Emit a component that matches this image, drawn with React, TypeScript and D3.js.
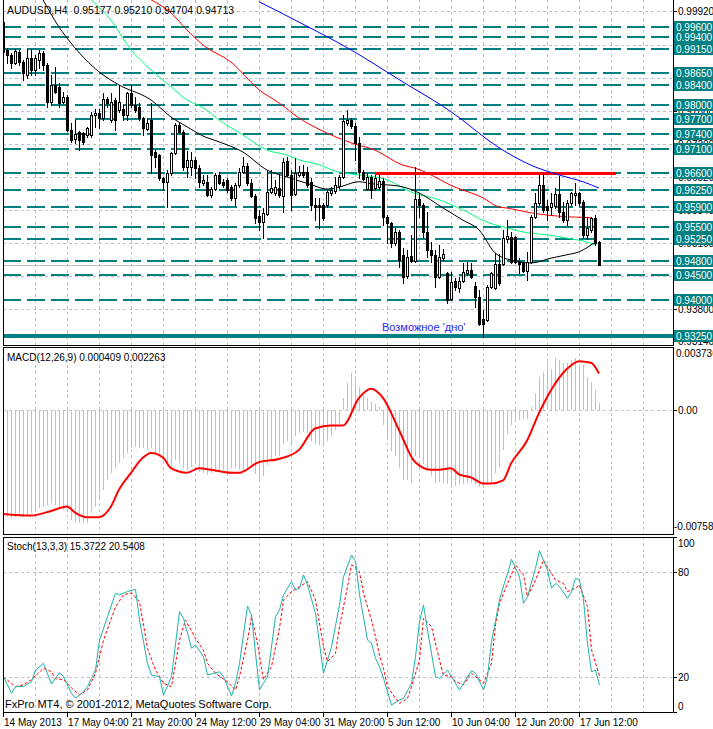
import React from 'react';
import * as d3 from 'd3';

const OPEN = [0.9970,0.9913,0.9903,0.9886,0.9909,0.9888,0.9861,0.9896,0.9872,0.9892,0.9907,0.9882,0.9805,0.9841,0.9837,0.9805,0.9816,0.9748,0.9730,0.9744,0.9742,0.9738,0.9738,0.9779,0.9783,0.9773,0.9812,0.9769,0.9810,0.9789,0.9791,0.9779,0.9824,0.9799,0.9795,0.9773,0.9750,0.9769,0.9703,0.9697,0.9650,0.9642,0.9660,0.9701,0.9759,0.9744,0.9672,0.9672,0.9687,0.9670,0.9640,0.9642,0.9615,0.9627,0.9656,0.9642,0.9646,0.9631,0.9609,0.9636,0.9662,0.9674,0.9640,0.9613,0.9572,0.9559,0.9576,0.9621,0.9619,0.9629,0.9613,0.9685,0.9656,0.9617,0.9656,0.9662,0.9662,0.9642,0.9595,0.9595,0.9595,0.9595,0.9619,0.9623,0.9633,0.9652,0.9763,0.9769,0.9757,0.9722,0.9662,0.9627,0.9652,0.9629,0.9631,0.9644,0.9570,0.9557,0.9516,0.9539,0.9492,0.9448,0.9490,0.9479,0.9607,0.9595,0.9539,0.9502,0.9492,0.9446,0.9485,0.9454,0.9401,0.9438,0.9424,0.9438,0.9454,0.9461,0.9428,0.9405,0.9360,0.9358,0.9426,0.9424,0.9473,0.9473,0.9524,0.9529,0.9529,0.9477,0.9475,0.9459,0.9477,0.9570,0.9599,0.9636,0.9592,0.9590,0.9592,0.9617,0.9580,0.9563,0.9599,0.9615,0.9619,0.9601,0.9533,0.9543,0.9568,0.95177];
const HIGH = [0.9979,0.9917,0.9907,0.9915,0.9913,0.9892,0.9915,0.9915,0.9903,0.9913,0.9911,0.9886,0.9861,0.9878,0.9845,0.9826,0.9820,0.9763,0.9769,0.9746,0.9744,0.9754,0.9785,0.9791,0.9791,0.9824,0.9816,0.9824,0.9814,0.9841,0.9799,0.9826,0.9841,0.9816,0.9803,0.9775,0.9773,0.9803,0.9707,0.9699,0.9652,0.9666,0.9703,0.9763,0.9763,0.9748,0.9705,0.9703,0.9693,0.9677,0.9656,0.9656,0.9631,0.9660,0.9662,0.9648,0.9650,0.9636,0.9640,0.9670,0.9693,0.9681,0.9648,0.9617,0.9584,0.9588,0.9666,0.9666,0.9646,0.9656,0.9691,0.9693,0.9666,0.9691,0.9674,0.9677,0.9672,0.9650,0.9609,0.9609,0.9599,0.9625,0.9631,0.9652,0.9656,0.9779,0.9789,0.9773,0.9763,0.9734,0.9666,0.9660,0.9656,0.9656,0.9656,0.9650,0.9574,0.9559,0.9547,0.9543,0.9506,0.9502,0.9533,0.9672,0.9619,0.9599,0.9580,0.9518,0.9502,0.9512,0.9504,0.9456,0.9456,0.9444,0.9446,0.9475,0.9477,0.9475,0.9436,0.9420,0.9378,0.9430,0.9456,0.9496,0.9494,0.9543,0.9563,0.9539,0.9531,0.9485,0.9477,0.9498,0.9574,0.9619,0.9656,0.9660,0.9605,0.9619,0.9629,0.9654,0.9601,0.9605,0.9621,0.9640,0.9621,0.9605,0.9570,0.9570,0.9574,0.95210];
const LOW = [0.9892,0.9886,0.9876,0.9884,0.9882,0.9851,0.9855,0.9861,0.9861,0.9876,0.9872,0.9795,0.9799,0.9824,0.9795,0.9803,0.9746,0.9724,0.9722,0.9707,0.9720,0.9734,0.9734,0.9755,0.9752,0.9769,0.9795,0.9765,0.9748,0.9785,0.9769,0.9769,0.9795,0.9785,0.9769,0.9738,0.9748,0.9660,0.9672,0.9646,0.9625,0.9590,0.9656,0.9699,0.9742,0.9666,0.9652,0.9656,0.9650,0.9631,0.9636,0.9613,0.9611,0.9625,0.9638,0.9631,0.9621,0.9605,0.9595,0.9631,0.9660,0.9636,0.9611,0.9557,0.9543,0.9526,0.9574,0.9619,0.9615,0.9611,0.9580,0.9654,0.9584,0.9615,0.9654,0.9652,0.9631,0.9584,0.9563,0.9547,0.9563,0.9590,0.9615,0.9619,0.9629,0.9650,0.9759,0.9752,0.9687,0.9650,0.9646,0.9625,0.9609,0.9625,0.9627,0.9553,0.9516,0.9508,0.9512,0.9467,0.9434,0.9444,0.9477,0.9477,0.9570,0.9529,0.9488,0.9477,0.9426,0.9444,0.9481,0.9393,0.9399,0.9420,0.9416,0.9436,0.9450,0.9444,0.9385,0.9348,0.9323,0.9356,0.9424,0.9422,0.9430,0.9471,0.9518,0.9475,0.9475,0.9454,0.9456,0.9440,0.9475,0.9568,0.9595,0.9580,0.9563,0.9574,0.9588,0.9570,0.9559,0.9553,0.9595,0.9595,0.9595,0.9529,0.9524,0.9539,0.9512,0.94704];
const CLOSE = [0.9909,0.9903,0.9886,0.9911,0.9888,0.9866,0.9896,0.9872,0.9896,0.9907,0.9882,0.9805,0.9841,0.9826,0.9803,0.9816,0.9748,0.9728,0.9740,0.9728,0.9724,0.9752,0.9779,0.9783,0.9773,0.9812,0.9803,0.9805,0.9769,0.9805,0.9779,0.9824,0.9799,0.9789,0.9773,0.9752,0.9763,0.9697,0.9693,0.9650,0.9642,0.9660,0.9701,0.9759,0.9744,0.9672,0.9687,0.9687,0.9670,0.9642,0.9646,0.9615,0.9627,0.9656,0.9640,0.9636,0.9625,0.9609,0.9636,0.9662,0.9674,0.9640,0.9613,0.9568,0.9559,0.9578,0.9621,0.9629,0.9631,0.9615,0.9683,0.9656,0.9615,0.9660,0.9662,0.9656,0.9636,0.9595,0.9590,0.9590,0.9568,0.9621,0.9625,0.9636,0.9652,0.9767,0.9769,0.9757,0.9722,0.9662,0.9648,0.9652,0.9625,0.9650,0.9644,0.9570,0.9557,0.9516,0.9539,0.9481,0.9446,0.9488,0.9479,0.9607,0.9595,0.9539,0.9502,0.9492,0.9446,0.9488,0.9494,0.9399,0.9436,0.9426,0.9438,0.9456,0.9461,0.9446,0.9405,0.9350,0.9350,0.9426,0.9454,0.9473,0.9434,0.9526,0.9531,0.9477,0.9477,0.9473,0.9459,0.9477,0.9570,0.9599,0.9636,0.9584,0.9584,0.9599,0.9617,0.9580,0.9563,0.9599,0.9619,0.9619,0.9599,0.9533,0.9547,0.9568,0.9516,0.94713];

// moving averages read at sample bars: [bar index, price]
const MA_BLACK = [[10,1.0016],[14,0.9960],[17,0.9927],[24,0.9868],[29,0.9841],[37,0.9810],[42,0.9775],[46,0.9755],[50,0.9736],[54,0.9724],[60,0.9703],[66,0.9666],[71,0.9652],[77,0.9636],[81,0.9627],[84,0.9631],[89,0.9642],[92,0.9638],[99,0.9633],[104,0.9619],[110,0.9588],[115,0.9563],[119,0.9543],[123,0.9496],[127,0.9481],[132,0.9475],[137,0.9485],[141,0.9492],[144,0.9498],[148,0.9518]];
const MA_GREEN = [[22,1.0016],[27,0.9974],[32,0.9913],[37,0.9872],[42,0.9837],[46,0.9810],[50,0.9794],[54,0.9769],[60,0.9738],[66,0.9707],[71,0.9697],[74,0.9687],[79,0.9677],[83,0.9664],[87,0.9658],[91,0.9654],[96,0.9646],[102,0.9621],[109,0.9605],[115,0.9584],[121,0.9559],[126,0.9547],[131,0.9537],[136,0.9533],[141,0.9526],[146,0.9518],[148,0.9512]];
const MA_RED = [[37,1.0016],[42,0.9989],[46,0.9954],[50,0.9923],[57,0.9888],[64,0.9831],[69,0.9804],[74,0.9773],[81,0.9742],[87,0.9722],[93,0.9707],[100,0.9676],[103,0.9670],[113,0.9631],[120,0.9609],[124,0.9590],[126,0.9588],[132,0.9578],[141,0.9570],[147,0.9568],[148,0.9559]];
const MA_BLUE = [[64,1.0012],[74,0.9970],[87,0.9913],[99,0.9852],[112,0.9786],[124,0.9712],[132,0.9676],[139,0.9656],[145,0.9642],[149,0.9629]];

const LEVELS = [0.9960,0.9940,0.9915,0.9865,0.9840,0.9800,0.9770,0.9740,0.9710,0.9660,0.9625,0.9590,0.9550,0.9525,0.9480,0.9450,0.9400];
const SUPPORT_LEVEL = 0.9325;
const RESIST_LEVEL = 0.9660;
const PRICE_TICKS = [0.9992,0.9924,0.9856,0.9788,0.9720,0.9652,0.9584,0.9516,0.9448,0.9380];
const PRICE_MIN_LABEL = 0.9314;

const MACD_HIST = [-0.00686,-0.00697,-0.00708,-0.00697,-0.00686,-0.00697,-0.00686,-0.00675,-0.00654,-0.00643,-0.00632,-0.00621,-0.00610,-0.00621,-0.00643,-0.00654,-0.00665,-0.00719,-0.00730,-0.00736,-0.00741,-0.00736,-0.00675,-0.00632,-0.00577,-0.00523,-0.00458,-0.00414,-0.00381,-0.00349,-0.00316,-0.00283,-0.00251,-0.00240,-0.00251,-0.00251,-0.00261,-0.00251,-0.00283,-0.00294,-0.00316,-0.00359,-0.00370,-0.00327,-0.00349,-0.00381,-0.00392,-0.00370,-0.00349,-0.00403,-0.00414,-0.00425,-0.00414,-0.00403,-0.00403,-0.00392,-0.00403,-0.00381,-0.00381,-0.00392,
-0.0040,-0.0038,-0.0038,-0.0042,-0.0045,-0.0043,-0.0036,-0.0032,-0.0030,-0.0030,-0.0022,-0.0020,-0.0022,-0.0017,-0.0015,-0.0014,-0.0015,-0.0020,-0.0022,-0.0023,-0.0024,-0.0020,-0.0017,-0.0013,-0.0009,0.0008,0.0018,0.0024,0.0022,0.0015,0.0010,0.0008,0.0005,0.0004,0.0002,-0.0010,-0.0018,-0.0027,-0.0030,-0.0038,-0.0046,-0.0046,-0.0048,-0.0030,-0.0030,-0.0035,-0.0040,-0.0043,-0.0048,-0.0047,
-0.00479,-0.00484,-0.00490,-0.00497,-0.00490,-0.00484,-0.00479,-0.00479,-0.00484,-0.00501,-0.00512,-0.00479,-0.00468,-0.00414,-0.00370,-0.00261,-0.00153,-0.00098,-0.00076,-0.00065,-0.00061,-0.00061,0.00022,0.00109,0.00218,0.00250,0.00305,0.00272,0.00338,0.00327,0.00305,0.00309,0.00327,0.00338,0.00294,0.00294,0.00214,0.00185,0.00131,0.00044];
const MACD_SIGNAL = [[0,-0.0068],[7,-0.0069],[12,-0.0066],[16,-0.0063],[18,-0.0067],[21,-0.0070],[24,-0.0070],[27,-0.0063],[29,-0.0052],[32,-0.0041],[35,-0.0031],[37,-0.0028],[40,-0.0031],[42,-0.0038],[46,-0.0041],[49,-0.0038],[52,-0.0039],[57,-0.0041],[59,-0.0041],[64,-0.0034],[69,-0.0032],[74,-0.0026],[78,-0.0012],[82,-0.0010],[85,-0.0010],[89,0.0008],[92,0.0014],[95,0.0008],[99,-0.0013],[103,-0.0034],[107,-0.0039],[109,-0.0039],[112,-0.0038],[114,-0.0042],[117,-0.0044],[120,-0.0048],[122,-0.0048],[125,-0.0046],[127,-0.0035],[131,-0.0020],[134,-0.0002],[137,0.0013],[141,0.0027],[144,0.0032],[147,0.0031],[149,0.0024]];
const MACD_MIN = -0.00758;
const MACD_MAX = 0.003736;

const STOCH_MAIN = [[0,20.2],[2,10.7],[3,14.5],[5,14.5],[7,17.3],[8,24],[10,27.8],[12,16],[14,22.5],[15,20.2],[17,10.7],[18,7.8],[20,11.6],[21,14.5],[23,24],[24,41],[26,54.5],[28,67.8],[29,67],[31,68.8],[33,70.1],[34,52.6],[36,27.8],[37,21.1],[39,20.2],[40,9.7],[42,20.2],[44,57.3],[45,53.5],[47,36.4],[48,38.3],[50,31.6],[51,21.1],[54,23],[55,20.2],[57,9.1],[58,16.4],[59,27.8],[61,60.6],[62,55.4],[63,33.5],[64,12.6],[66,20.2],[68,54.5],[69,58.3],[70,66.9],[72,74.5],[73,69.7],[74,70.7],[75,78.3],[76,72.6],[78,56.4],[80,22.1],[82,37.3],[84,61.1],[85,77.3],[87,89.7],[88,86],[89,67],[91,41.1],[92,39.2],[93,30.7],[94,25.9],[95,19.2],[97,4],[99,6.9],[100,7.8],[102,16.4],[103,31.6],[104,51.6],[105,61.1],[106,46.9],[108,20.2],[109,19.2],[111,24],[112,20.2],[114,12.6],[115,16.4],[117,23.6],[118,22.1],[120,12.6],[121,20.2],[122,40.2],[124,64],[125,72],[126,78.9],[127,87.2],[129,77.3],[130,62.1],[131,65.9],[133,82.1],[134,92.2],[136,81.1],[137,70.7],[138,73.5],[139,71.6],[141,65],[142,68.8],[143,76.4],[144,75.4],[145,64],[146,39.2],[147,23],[148,24],[149,15.4]];
const STOCH_SIGNAL = [[0,20],[3,14.5],[5,15.6],[7,18.5],[10,25],[12,23],[13,19],[15,18.5],[17,13.7],[19,9.9],[21,12.6],[23,22.1],[25,41],[28,60],[30,67],[32,68],[34,63],[36,36.4],[38,24],[40,16.4],[42,14.5],[44,41],[45.5,52.6],[48,42],[50,35.2],[51,27.8],[53,22.1],[56,17.3],[58,12.6],[59,20.2],[61,41],[62,54.5],[63.5,39],[65,18.5],[67,26],[69,47.8],[70,64],[72,68.8],[74,71.6],[76,74.5],[78,64],[80,37.3],[81,28.8],[83,33.5],[84,48.8],[86,71.6],[87,84],[88,83],[89,80],[90,67.8],[92,52.6],[93,43],[94,32.5],[95,24.9],[96,14.5],[98,7.8],[99,4.9],[101,7.8],[102,14.5],[104,29.7],[105,53.5],[107,48.8],[109,29.7],[110,21.1],[112,20.2],[113,17.3],[115,15.6],[117,22.1],[118,20.2],[120,16.4],[122,27.8],[123,49.7],[124,62],[126,73.5],[128,84],[130,78.3],[131,65.9],[133,75.4],[135,86.8],[136,83],[138,75.4],[140,73.5],[141,68.8],[143,70.7],[144,72.6],[146,60.3],[147,35.6],[149,20.5]];
const STOCH_TICKS = [100, 80, 20, 0];

const TIME_LABELS = ['14 May 2013','17 May 04:00','21 May 20:00','24 May 12:00','29 May 04:00','31 May 20:00','5 Jun 12:00','10 Jun 04:00','12 Jun 20:00','17 Jun 12:00'];
const TIME_LABEL_BARS = [0,16,32,48,64,80,96,112,128,144];

const TITLE = 'AUDUSD,H4  0.95177 0.95210 0.94704 0.94713';
const MACD_TITLE = 'MACD(12,26,9) 0.000409 0.002263';
const STOCH_TITLE = 'Stoch(13,3,3) 15.3722 20.5408';
const COPYRIGHT = 'FxPro MT4, © 2001-2012, MetaQuotes Software Corp.';
const NOTE = "Возможное 'дно'";

const FONT = "'Liberation Sans', Arial, sans-serif";
const TEAL = '#008080';
const GRID = '#c0c0c0';

export default function App() {
  const W = 713, H = 729;
  const L = 3, R = 673;
  const mainTop = 0, mainBot = 345;
  const macdTop = 347, macdBot = 534;
  const stTop = 537, stBot = 712;

  const x = d3.scaleLinear().domain([0, 149]).range([3, 599]);
  const yP = d3.scaleLinear().domain([0.9325, 0.9960]).range([336, 27]);
  const yM = d3.scaleLinear().domain([MACD_MIN, MACD_MAX]).range([526, 353]);
  const yS = d3.scaleLinear().domain([0, 100]).range([712, 537]);

  const maLine = d3.line<number[]>().x(d => x(d[0])).y(d => yP(d[1])).curve(d3.curveMonotoneX);
  const macdLine = d3.line<number[]>().x(d => x(d[0])).y(d => yM(d[1])).curve(d3.curveMonotoneX);
  const stLine = d3.line<number[]>().x(d => x(d[0]) + 0.5).y(d => yS(d[1]));

  const vgrid = d3.range(35, R, 32);
  const bars = d3.range(OPEN.length);

  const axisText = { fontFamily: FONT, fontSize: 10, fill: '#000' } as const;

  return (
    <svg width={W} height={H} style={{ position: 'absolute', left: 0, top: 0, background: '#fff' }}
      shapeRendering="crispEdges">
      <defs>
        <clipPath id="cMain"><rect x={L} y={mainTop} width={R - L} height={mainBot - mainTop} /></clipPath>
        <clipPath id="cMacd"><rect x={L} y={macdTop} width={R - L} height={macdBot - macdTop} /></clipPath>
        <clipPath id="cSt"><rect x={L} y={stTop} width={R - L} height={stBot - stTop} /></clipPath>
        <clipPath id="cMainAxis"><rect x={R} y={0} width={W - R} height={mainBot} /></clipPath>
      </defs>
      <rect x={0} y={0} width={W} height={H} fill="#fff" />

      {/* grids */}
      {vgrid.map(g => (
        <g key={'vg' + g} stroke={GRID} strokeDasharray="3,3">
          <line x1={g + 0.5} x2={g + 0.5} y1={mainTop} y2={mainBot} />
          <line x1={g + 0.5} x2={g + 0.5} y1={macdTop} y2={macdBot} />
          <line x1={g + 0.5} x2={g + 0.5} y1={stTop} y2={stBot} />
        </g>
      ))}
      {PRICE_TICKS.map(p => (
        <line key={'hg' + p} x1={L} x2={R} y1={Math.round(yP(p)) + 0.5} y2={Math.round(yP(p)) + 0.5} stroke={GRID} strokeDasharray="3,3" />
      ))}
      <line x1={L} x2={R} y1={Math.round(yM(0)) + 0.5} y2={Math.round(yM(0)) + 0.5} stroke={GRID} strokeDasharray="3,3" />
      {[80, 20].map(v => (
        <line key={'sg' + v} x1={L} x2={R} y1={Math.round(yS(v)) + 0.5} y2={Math.round(yS(v)) + 0.5} stroke={GRID} strokeDasharray="3,3" />
      ))}

      {/* main panel */}
      <g clipPath="url(#cMain)">
        {LEVELS.map(p => (
          <line key={'lv' + p} x1={L} x2={R} y1={Math.round(yP(p))} y2={Math.round(yP(p))} stroke={TEAL} strokeWidth={2} strokeDasharray="18,6" />
        ))}
        <line x1={L} x2={R} y1={Math.round(yP(SUPPORT_LEVEL))} y2={Math.round(yP(SUPPORT_LEVEL))} stroke={TEAL} strokeWidth={4} />
        <line x1={L} x2={R} y1={Math.round(yP(CLOSE[CLOSE.length - 1])) + 0.5} y2={Math.round(yP(CLOSE[CLOSE.length - 1])) + 0.5} stroke="#c0c0c0" />
        <line x1={375} x2={616} y1={Math.round(yP(RESIST_LEVEL))} y2={Math.round(yP(RESIST_LEVEL))} stroke="#ff0000" strokeWidth={3} />
        <g fill="none" shapeRendering="auto">
          <path d={maLine(MA_BLUE as number[][]) || ''} stroke="#0000ff" strokeWidth={1} />
          <path d={maLine(MA_RED as number[][]) || ''} stroke="#ff0000" strokeWidth={1} />
          <path d={maLine(MA_GREEN as number[][]) || ''} stroke="#00ff7f" strokeWidth={1} />
          <path d={maLine(MA_BLACK as number[][]) || ''} stroke="#000" strokeWidth={1} />
        </g>
        {bars.map(i => {
          const cx = Math.round(x(i));
          const o = OPEN[i], c = CLOSE[i];
          const yo = Math.round(yP(o)), yc = Math.round(yP(c));
          const yh = Math.round(yP(HIGH[i])), yl = Math.round(yP(LOW[i]));
          const bull = c >= o;
          const top = Math.min(yo, yc), bot = Math.max(yo, yc);
          return (
            <g key={'c' + i}>
              <line x1={cx + 0.5} x2={cx + 0.5} y1={yh} y2={yl + 1} stroke="#000" />
              {bull ? (
                <rect x={cx - 0.5} y={top + 0.5} width={2} height={Math.max(0, bot - top)} fill="#fff" stroke="#000" />
              ) : (
                <rect x={cx - 1} y={top} width={3} height={Math.max(1, bot - top + 1)} fill="#000" />
              )}
            </g>
          );
        })}
        <text x={382} y={331} fontFamily={FONT} fontSize={11} fill="#2828ff">{NOTE}</text>
      </g>
      <text x={7} y={14} fontFamily={FONT} fontSize={10.5} fill="#000" style={{ whiteSpace: 'pre' }}>{TITLE}</text>

      {/* MACD panel */}
      <g clipPath="url(#cMacd)">
        {bars.map(i => (
          <line key={'h' + i} x1={Math.round(x(i)) + 0.5} x2={Math.round(x(i)) + 0.5} y1={Math.round(yM(0))} y2={Math.round(yM(MACD_HIST[i]))} stroke="#c0c0c0" />
        ))}
        <path d={macdLine(MACD_SIGNAL as number[][]) || ''} fill="none" stroke="#ff0000" strokeWidth={2} shapeRendering="auto" />
      </g>
      <text x={7} y={361} fontFamily={FONT} fontSize={10} fill="#000">{MACD_TITLE}</text>

      {/* Stoch panel */}
      <g clipPath="url(#cSt)" fill="none" shapeRendering="auto">
        <path d={stLine(STOCH_SIGNAL as number[][]) || ''} stroke="#ff0000" strokeDasharray="3,2" />
        <path d={stLine(STOCH_MAIN as number[][]) || ''} stroke="#20b2aa" />
      </g>
      <text x={7} y={550} fontFamily={FONT} fontSize={10} fill="#000">{STOCH_TITLE}</text>
      <text x={5} y={708} fontFamily={FONT} fontSize={11} fill="#000">{COPYRIGHT}</text>

      {/* borders */}
      <g stroke="#000" fill="none">
        <line x1={L + 0.5} x2={L + 0.5} y1={mainTop} y2={mainBot + 1} />
        <line x1={R + 0.5} x2={R + 0.5} y1={mainTop} y2={mainBot + 1} />
        <line x1={L} x2={R + 1} y1={mainBot + 0.5} y2={mainBot + 0.5} />
        <rect x={L + 0.5} y={macdTop + 0.5} width={R - L} height={macdBot - macdTop} />
        <rect x={L + 0.5} y={stTop + 0.5} width={R - L} height={stBot - stTop} />
      </g>

      {/* price axis */}
      <g clipPath="url(#cMainAxis)">
        {PRICE_TICKS.map(p => (
          <g key={'pt' + p}>
            <line x1={R} x2={R + 4} y1={Math.round(yP(p)) + 0.5} y2={Math.round(yP(p)) + 0.5} stroke="#000" />
            <text x={R + 5} y={yP(p) + 4} {...axisText}>{d3.format('.5f')(p)}</text>
          </g>
        ))}
        <text x={R + 5} y={yP(PRICE_MIN_LABEL) + 4} {...axisText}>{d3.format('.5f')(PRICE_MIN_LABEL)}</text>
        {[...LEVELS, SUPPORT_LEVEL].map(p => (
          <g key={'bx' + p}>
            <rect x={R + 1} y={Math.round(yP(p)) - 6} width={W - R} height={12} fill={TEAL} />
            <text x={R + 3} y={Math.round(yP(p)) + 4} fontFamily={FONT} fontSize={10} fill="#fff">{d3.format('.5f')(p)}</text>
          </g>
        ))}
      </g>

      {/* MACD axis */}
      <g>
        <text x={R + 3} y={yM(MACD_MAX) + 4} {...axisText}>{String(MACD_MAX)}</text>
        <line x1={R} x2={R + 4} y1={Math.round(yM(0)) + 0.5} y2={Math.round(yM(0)) + 0.5} stroke="#000" />
        <text x={R + 5} y={yM(0) + 4} {...axisText}>0.00</text>
        <text x={R + 1} y={yM(MACD_MIN) + 4} {...axisText}>{String(MACD_MIN)}</text>
      </g>

      {/* Stoch axis */}
      {STOCH_TICKS.map(v => {
        const yy = v === 100 ? 543 : v === 0 ? 706 : yS(v);
        return (
          <g key={'st' + v}>
            <line x1={R} x2={R + 4} y1={Math.round(yS(v)) + 0.5} y2={Math.round(yS(v)) + 0.5} stroke="#000" />
            <text x={R + 5} y={yy + 4} {...axisText}>{v}</text>
          </g>
        );
      })}

      {/* time axis */}
      {TIME_LABEL_BARS.map((b, k) => {
        const tx = Math.round(x(b));
        return (
          <g key={'tl' + b}>
            <line x1={tx + 0.5} x2={tx + 0.5} y1={stBot} y2={stBot + 5} stroke="#000" />
            <text x={tx + 1} y={726} {...axisText}>{TIME_LABELS[k]}</text>
          </g>
        );
      })}
    </svg>
  );
}
